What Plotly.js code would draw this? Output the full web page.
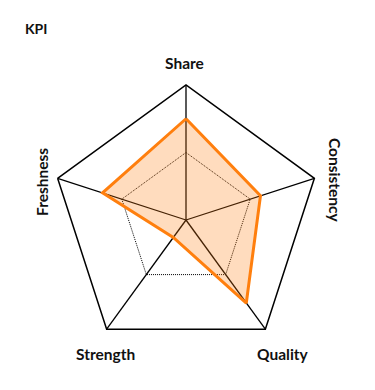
<!DOCTYPE html>
<html>
<head>
<meta charset="utf-8">
<script src="https://cdn.plot.ly/plotly-3.0.1.min.js"></script>
<style>html,body{margin:0;padding:0;background:#fff}#chart{width:375px;height:390px}</style>
</head>
<body>
<div id="chart"></div>
<script>
const categories = ['Share', 'Consistency', 'Quality', 'Strength', 'Freshness'];
const values = [75, 58, 76, 16, 65];
const chartTitle = 'KPI';

// label placement (pixel offsets from polar centre) and rotation
const labelStyle = {
  Share: {dx: -2, dy: -157, angle: 0},
  Consistency: {dx: 149, dy: -40, angle: 90},
  Quality: {dx: 97, dy: 134, angle: 0},
  Strength: {dx: -81, dy: 134, angle: 0},
  Freshness: {dx: -144, dy: -38, angle: -90}
};

const W = 375, H = 390;
const margin = {l: 51, r: 54, t: 85, b: 35};
const pw = W - margin.l - margin.r, ph = H - margin.t - margin.b;
const font = {family: 'Lato, sans-serif', size: 15.5, color: '#111', weight: 700};

const annotations = categories.map(c => {
  const s = labelStyle[c];
  return {
    text: c, xref: 'paper', yref: 'paper',
    x: 0.5 + s.dx / pw, y: 0.5 - s.dy / ph,
    xanchor: 'center', yanchor: 'middle',
    showarrow: false, textangle: s.angle, font: font
  };
});

const trace = {
  type: 'scatterpolar',
  r: values.concat([values[0]]),
  theta: categories.concat([categories[0]]),
  mode: 'lines',
  fill: 'toself',
  fillcolor: 'rgba(255,127,14,0.27)',
  line: {color: '#ff7f0e', width: 3},
  hoverinfo: 'skip'
};

const layout = {
  width: W, height: H,
  margin: margin,
  paper_bgcolor: '#fff',
  showlegend: false,
  title: {
    text: chartTitle, xref: 'container', yref: 'container',
    x: 25 / W, xanchor: 'left', y: 1 - 29 / H, yanchor: 'middle',
    font: {family: 'Lato, sans-serif', size: 14, color: '#111', weight: 700}
  },
  polar: {
    gridshape: 'linear',
    bgcolor: 'rgba(0,0,0,0)',
    domain: {x: [0, 1], y: [0, 1]},
    angularaxis: {
      categoryorder: 'array', categoryarray: categories,
      rotation: 90, direction: 'clockwise',
      showticklabels: false, ticks: '',
      showline: true, linecolor: '#000', linewidth: 1.5,
      showgrid: true, gridcolor: '#000', gridwidth: 1.3,
      layer: 'below traces'
    },
    radialaxis: {
      range: [0, 100], tickvals: [50],
      showticklabels: false, ticks: '', showline: false,
      showgrid: true, gridcolor: '#000', gridwidth: 1, griddash: '1px,1px',
      layer: 'below traces'
    }
  },
  annotations: annotations
};

Plotly.newPlot('chart', [trace], layout, {displayModeBar: false, staticPlot: true});
</script>
</body>
</html>
